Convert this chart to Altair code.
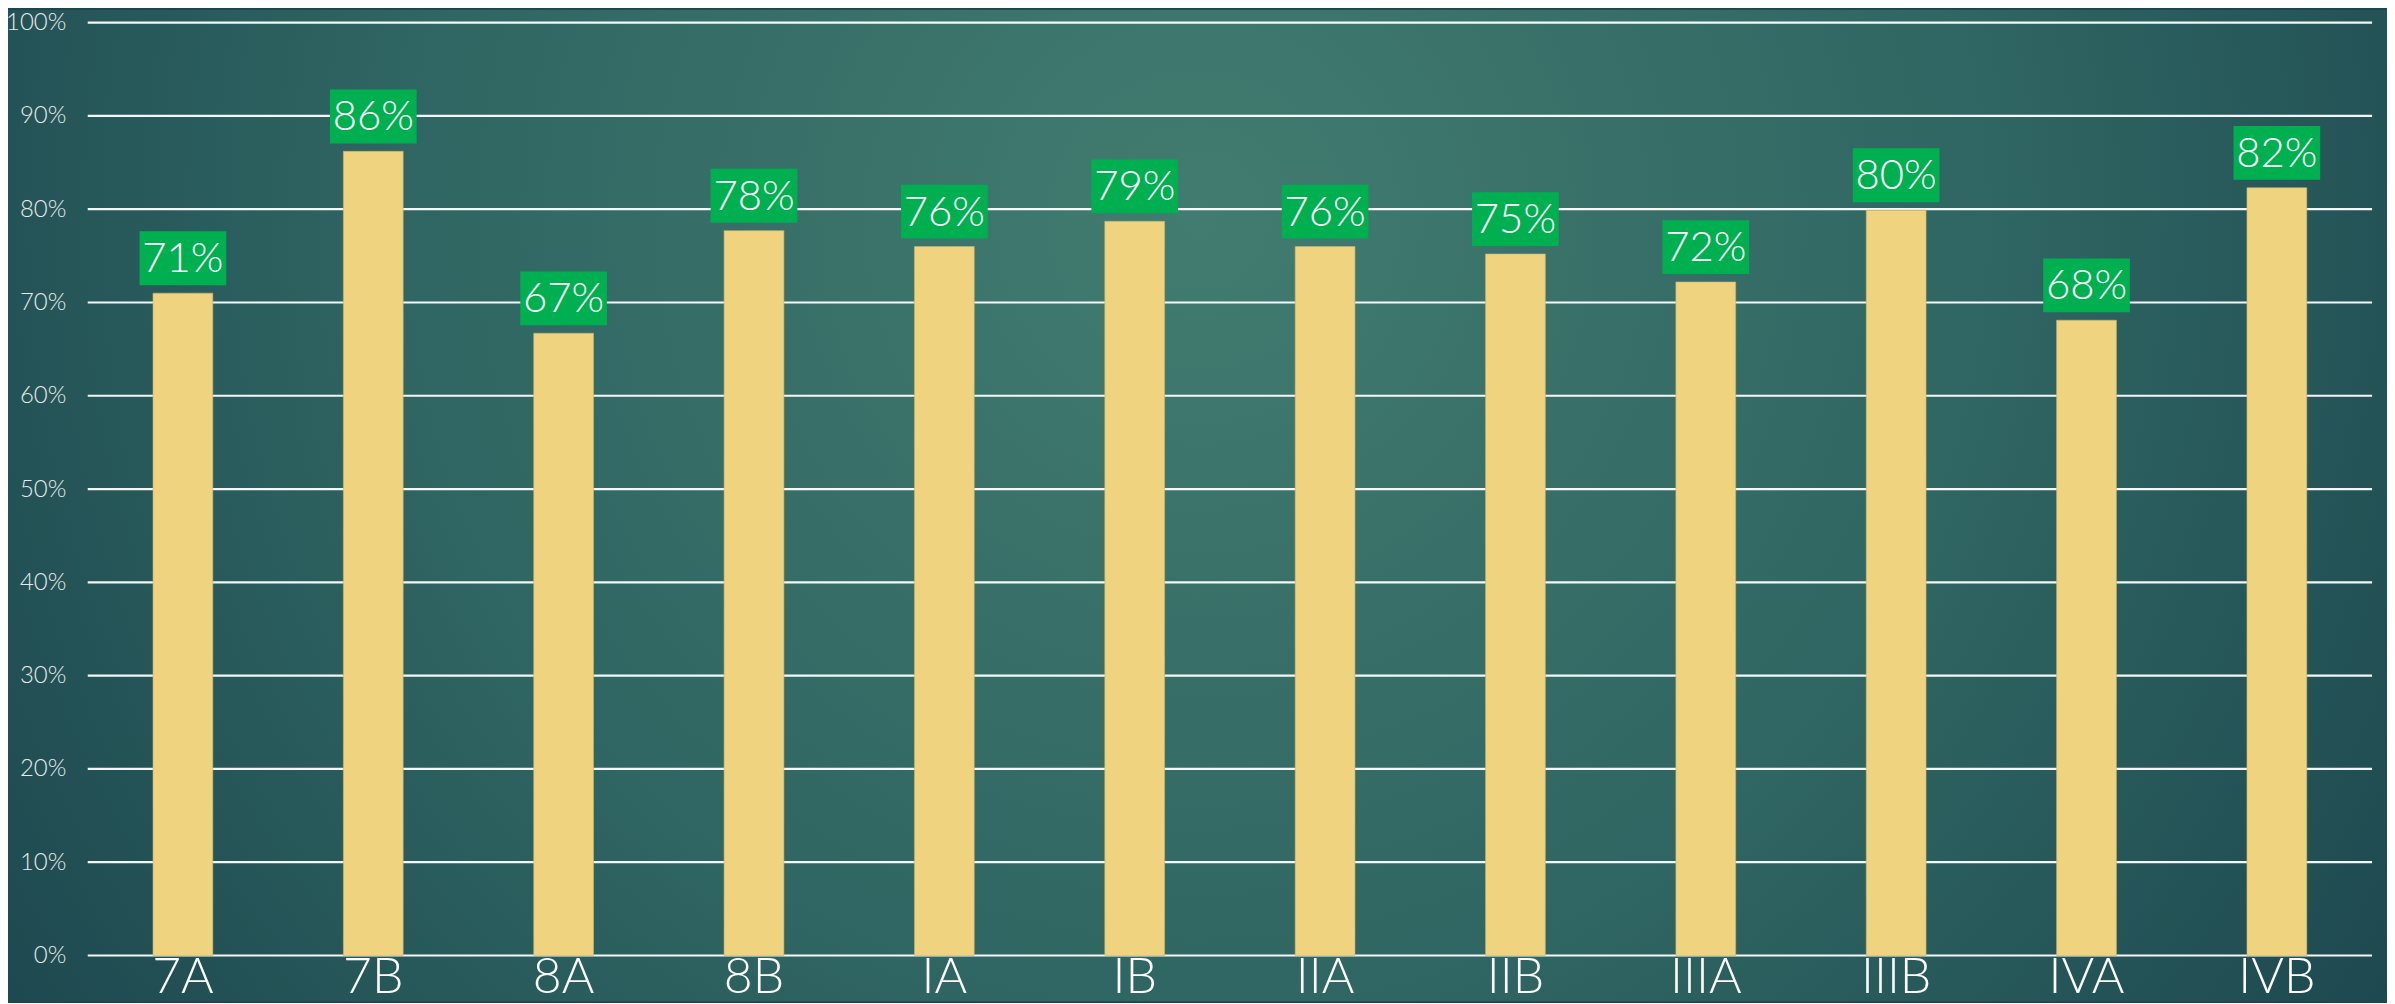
import altair as alt
import pandas as pd

categories = ["7A", "7B", "8A", "8B", "IA", "IB", "IIA", "IIB", "IIIA", "IIIB", "IVA", "IVB"]
values = [0.710, 0.862, 0.667, 0.777, 0.760, 0.787, 0.760, 0.752, 0.722, 0.799, 0.681, 0.823]
y_ticks = [0, 0.1, 0.2, 0.3, 0.4, 0.5, 0.6, 0.7, 0.8, 0.9, 1.0]

W, H = 2292, 936
PAD = {"left": 80, "top": 13, "right": 15, "bottom": 46}

df = pd.DataFrame({"cat": categories, "v": values})
ticks_df = pd.DataFrame({"t": y_ticks})

y_scale = alt.Scale(domain=[0, 1], nice=False)

bg_grad = alt.RadialGradient(
    gradient="radial",
    x1=0.5, y1=0.38, r1=0.0,
    x2=0.5, y2=0.38, r2=0.75,
    stops=[
        alt.GradientStop(offset=0.0, color="#427c70"),
        alt.GradientStop(offset=0.45, color="#2f6562"),
        alt.GradientStop(offset=1.0, color="#133845"),
    ],
)

background = alt.Chart(pd.DataFrame({"a": [0]})).mark_rect(fill=bg_grad).encode(
    x=alt.value(-PAD["left"]), x2=alt.value(W + PAD["right"]),
    y=alt.value(-PAD["top"]), y2=alt.value(H + PAD["bottom"]),
)

grid = alt.Chart(ticks_df).mark_rule(color="#ffffff", strokeWidth=2.2, opacity=0.95).encode(
    y=alt.Y("t:Q", scale=y_scale,
            axis=alt.Axis(title=None, values=y_ticks, format=".0%", ticks=False, domain=False,
                          labelFontSize=24, labelColor="#e6ebea", labelPadding=22, labelFont="Lato",
                          labelFontWeight=300, grid=False, zindex=1)),
)

base = alt.Chart(df)

bars = base.mark_bar(width=60, color="#efd37f", stroke="#c9b36c", strokeWidth=0.6).encode(
    x=alt.X("cat:N", sort=categories,
            scale=alt.Scale(paddingInner=0, paddingOuter=0),
            axis=alt.Axis(title=None, labelAngle=0, ticks=False, domain=False,
                          labelFontSize=50, labelColor="#ffffff", labelPadding=-3,
                          labelFont="Lato", labelFontWeight=300, grid=False, zindex=1)),
    y=alt.Y("v:Q", scale=y_scale),
)

label_box = base.mark_bar(width=87, color="#00b050", yOffset=-8, y2Offset=-62).encode(
    x=alt.X("cat:N", sort=categories),
    y=alt.Y("v:Q", scale=y_scale),
    y2=alt.Y2("v:Q"),
)

label_text = base.mark_text(fontSize=42, color="#ffffff", font="Lato", fontWeight=300,
                            baseline="middle", align="center", yOffset=-34).encode(
    x=alt.X("cat:N", sort=categories),
    y=alt.Y("v:Q", scale=y_scale),
    text=alt.Text("v:Q", format=".0%"),
)

chart = alt.layer(background, grid, bars, label_box, label_text).properties(
    width=W, height=H,
    autosize=alt.AutoSizeParams(type="none"),
    padding=PAD,
    background="#1b4450",
).configure_view(stroke=None)

chart.save("out.html", embed_options={"renderer": "svg", "actions": False})
